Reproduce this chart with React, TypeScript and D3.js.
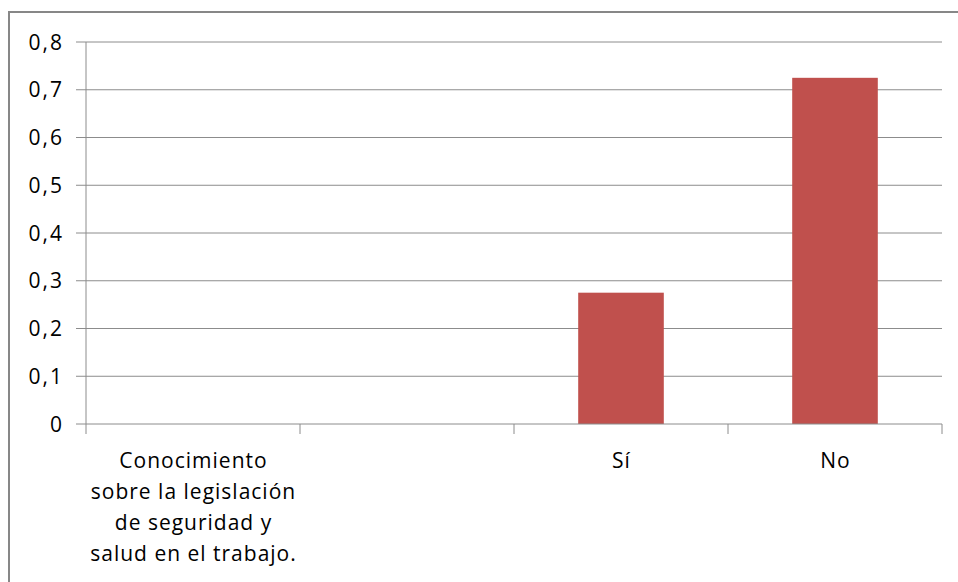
import React from "react";
import * as d3 from "d3";

const categories = ["Conocimiento sobre la legislación de seguridad y salud en el trabajo.", "", "Sí", "No"];
const categoryLines = [
  ["Conocimiento", "sobre la legislación", "de seguridad y", "salud en el trabajo."],
  [],
  ["Sí"],
  ["No"],
];
const values: (number | null)[] = [null, null, 0.275, 0.725];
const yTicks = [0, 0.1, 0.2, 0.3, 0.4, 0.5, 0.6, 0.7, 0.8];

export default function App() {
  const W = 958, H = 582;
  const left = 86, right = 942, top = 42, bottom = 424;
  const x = d3.scaleBand<string>().domain(categories.map((c, i) => String(i))).range([left, right]).paddingInner(0).paddingOuter(0);
  const y = d3.scaleLinear().domain([0, 0.8]).range([bottom, top]);
  const barW = x.bandwidth() * 0.4;
  const fmt = (v: number) => (v === 0 ? "0" : d3.format(".1f")(v).replace(".", ","));
  const font = "'Open Sans', sans-serif";
  const grid = "#8c8c8c";

  return (
    <svg width={W} height={H} style={{ position: "absolute", left: 0, top: 0 }}>
      <rect x={0} y={0} width={W} height={H} fill="#fff" />
      <rect x={9} y={12} width={W + 20} height={H + 20} fill="none" stroke="#878787" strokeWidth={2} />
      {yTicks.map((t) => (
        <g key={t}>
          {t !== 0 && <line x1={left} x2={right} y1={y(t)} y2={y(t)} stroke={grid} strokeWidth={1} />}
          <line x1={left - 10} x2={left} y1={y(t)} y2={y(t)} stroke={grid} strokeWidth={1} />
          <text x={64} y={y(t)} dy="0.36em" textAnchor="end" fontFamily={font} fontSize={21} letterSpacing={2} fill="#000">
            {fmt(t)}
          </text>
        </g>
      ))}
      <line x1={left} x2={left} y1={top} y2={bottom} stroke={grid} strokeWidth={1} />
      {values.map((v, i) =>
        v == null ? null : (
          <rect
            key={i}
            x={(x(String(i)) as number) + (x.bandwidth() - barW) / 2}
            y={y(v)}
            width={barW}
            height={y(0) - y(v)}
            fill="#C0504D"
          />
        )
      )}
      <line x1={left} x2={right} y1={bottom} y2={bottom} stroke={grid} strokeWidth={1} />
      {categories.map((c, i) => (
        <line key={"t" + i} x1={x(String(i)) as number} x2={x(String(i)) as number} y1={bottom} y2={bottom + 10} stroke={grid} strokeWidth={1} />
      ))}
      <line x1={right} x2={right} y1={bottom} y2={bottom + 10} stroke={grid} strokeWidth={1} />
      {categoryLines.map((lines, i) => (
        <text key={"c" + i} textAnchor="middle" fontFamily={font} fontSize={21} letterSpacing={1} fill="#000">
          {lines.map((l, j) => (
            <tspan key={j} x={(x(String(i)) as number) + x.bandwidth() / 2 + 0.5} y={468 + j * 31}>
              {l}
            </tspan>
          ))}
        </text>
      ))}
    </svg>
  );
}
